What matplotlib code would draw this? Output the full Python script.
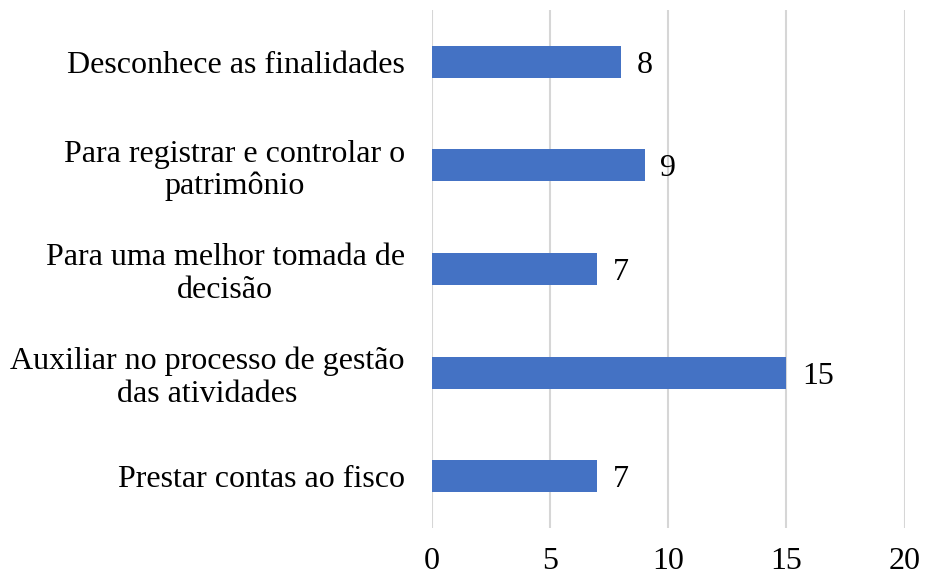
import matplotlib
matplotlib.use("Agg")
import matplotlib.pyplot as plt

categories = [
    "Desconhece as finalidades",
    "Para registrar e controlar o\npatrimônio",
    "Para uma melhor tomada de\ndecisão",
    "Auxiliar no processo de gestão\ndas atividades",
    "Prestar contas ao fisco",
]
values = [8, 9, 7, 15, 7]
xticks = [0, 5, 10, 15, 20]

plt.rcParams['font.family'] = ['Liberation Serif', 'DejaVu Serif']

fig = plt.figure(figsize=(9.25, 5.79), dpi=100)
ax = fig.add_axes([0.467, 0.088, 0.511, 0.895])

ypos = list(range(len(categories)))
ax.barh(ypos, values, height=0.31, color='#4472C4', zorder=3)
for y, v in zip(ypos, values):
    ax.text(v + 0.65, y, str(v), va='center_baseline', ha='left', fontsize=23, color='black')

ax.set_xlim(0, 20)
ax.set_ylim(4.5, -0.5)
ax.set_xticks(xticks)
ax.set_xticklabels([str(t) for t in xticks], fontsize=23)
ax.set_yticks(ypos)
ax.set_yticklabels(categories, fontsize=23, ha='right', multialignment='center',
                   linespacing=1.15)
ax.tick_params(axis='y', length=0, pad=19.5)
ax.tick_params(axis='x', length=0, pad=14)
ax.grid(axis='x', color='#d6d6d6', linewidth=1.5, zorder=0)
for s in ax.spines.values():
    s.set_visible(False)

fig.savefig("out.png", dpi=100)
